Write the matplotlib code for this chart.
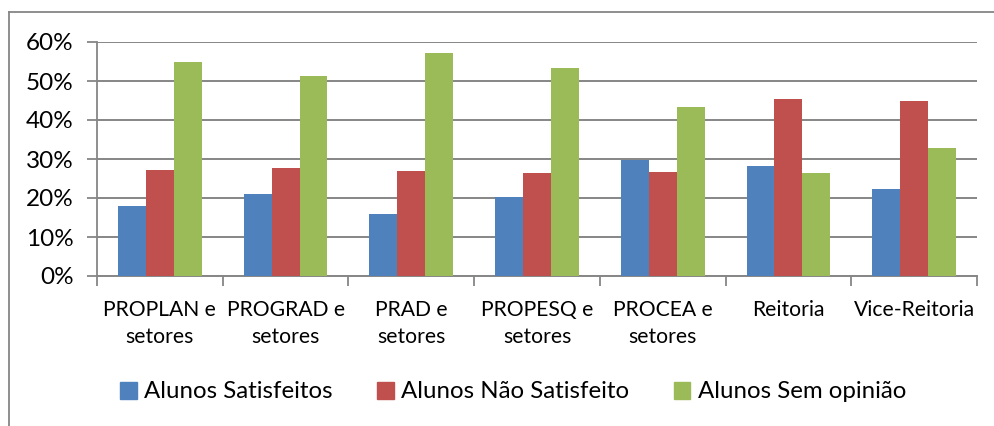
import matplotlib
matplotlib.use("Agg")
import matplotlib.pyplot as plt
from matplotlib.lines import Line2D
from matplotlib.patches import Patch
import numpy as np

categories = ["PROPLAN e\nsetores", "PROGRAD e\nsetores", "PRAD e\nsetores",
              "PROPESQ e\nsetores", "PROCEA e\nsetores", "Reitoria", "Vice-Reitoria"]
series_names = ["Alunos Satisfeitos", "Alunos Não Satisfeito", "Alunos Sem opinião"]
satisfeitos = [0.179, 0.209, 0.159, 0.202, 0.298, 0.281, 0.222]
nao_satisfeito = [0.272, 0.277, 0.268, 0.263, 0.267, 0.455, 0.449]
sem_opiniao = [0.549, 0.513, 0.572, 0.534, 0.434, 0.264, 0.329]
yticks = [0, 0.1, 0.2, 0.3, 0.4, 0.5, 0.6]
ytick_labels = ["0%", "10%", "20%", "30%", "40%", "50%", "60%"]

colors = ["#4F81BD", "#C0504D", "#9BBB59"]
grid_color = "#868686"
W, H = 994, 426

plt.rcParams['font.family'] = ['Lato', 'DejaVu Sans']

fig = plt.figure(figsize=(W / 100, H / 100), dpi=100)
fig.patch.set_facecolor("white")

# outer chart frame
fig.add_artist(Line2D([9 / W, 9 / W], [0, 1 - 12 / H], transform=fig.transFigure,
                      color=grid_color, lw=1.3))
fig.add_artist(Line2D([9 / W, 1], [1 - 12 / H, 1 - 12 / H], transform=fig.transFigure,
                      color=grid_color, lw=1.3))

left, right, top, bottom = 97, 977, 42, 276
ax = fig.add_axes([left / W, 1 - bottom / H, (right - left) / W, (bottom - top) / H])

x = np.arange(1, len(categories) + 1)
bw = 1 / 4.5
for i, (vals, c) in enumerate(zip([satisfeitos, nao_satisfeito, sem_opiniao], colors)):
    ax.bar(x + (i - 1) * bw, vals, width=bw, color=c, zorder=3, label=series_names[i])

ax.set_xlim(0.5, len(categories) + 0.5)
ax.set_ylim(0, 0.6)
ax.set_yticks(yticks)
ax.set_yticklabels(ytick_labels, fontsize=17.5)
ax.yaxis.grid(True, color=grid_color, lw=1.4, zorder=0)
ax.set_xticks(np.arange(0.5, len(categories) + 1, 1))
ax.set_xticklabels([])
ax.tick_params(axis='y', length=7, width=1.3, color=grid_color, pad=10)
ax.tick_params(axis='x', length=7, width=1.3, color=grid_color, direction='out')
for s in ["top", "right"]:
    ax.spines[s].set_visible(False)
ax.spines["left"].set_color(grid_color)
ax.spines["left"].set_linewidth(1.3)
ax.spines["bottom"].set_color(grid_color)
ax.spines["bottom"].set_linewidth(1.4)

ph = bottom - top
baselines = [316, 343]
for xi, lab in zip(x, categories):
    for k, line in enumerate(lab.split("\n")):
        ax.text(xi, -(baselines[k] - bottom) / ph, line, ha='center', va='baseline',
                fontsize=15.2, transform=ax.get_xaxis_transform())

handles = [Patch(color=c) for c in colors]
fig.legend(handles, series_names, loc='center', bbox_to_anchor=(513 / W, 1 - 392 / H),
           ncol=3, frameon=False, fontsize=17.3, handlelength=0.7, handleheight=0.7,
           handletextpad=0.3, columnspacing=1.85)

fig.savefig("out.png", dpi=100, facecolor="white")
